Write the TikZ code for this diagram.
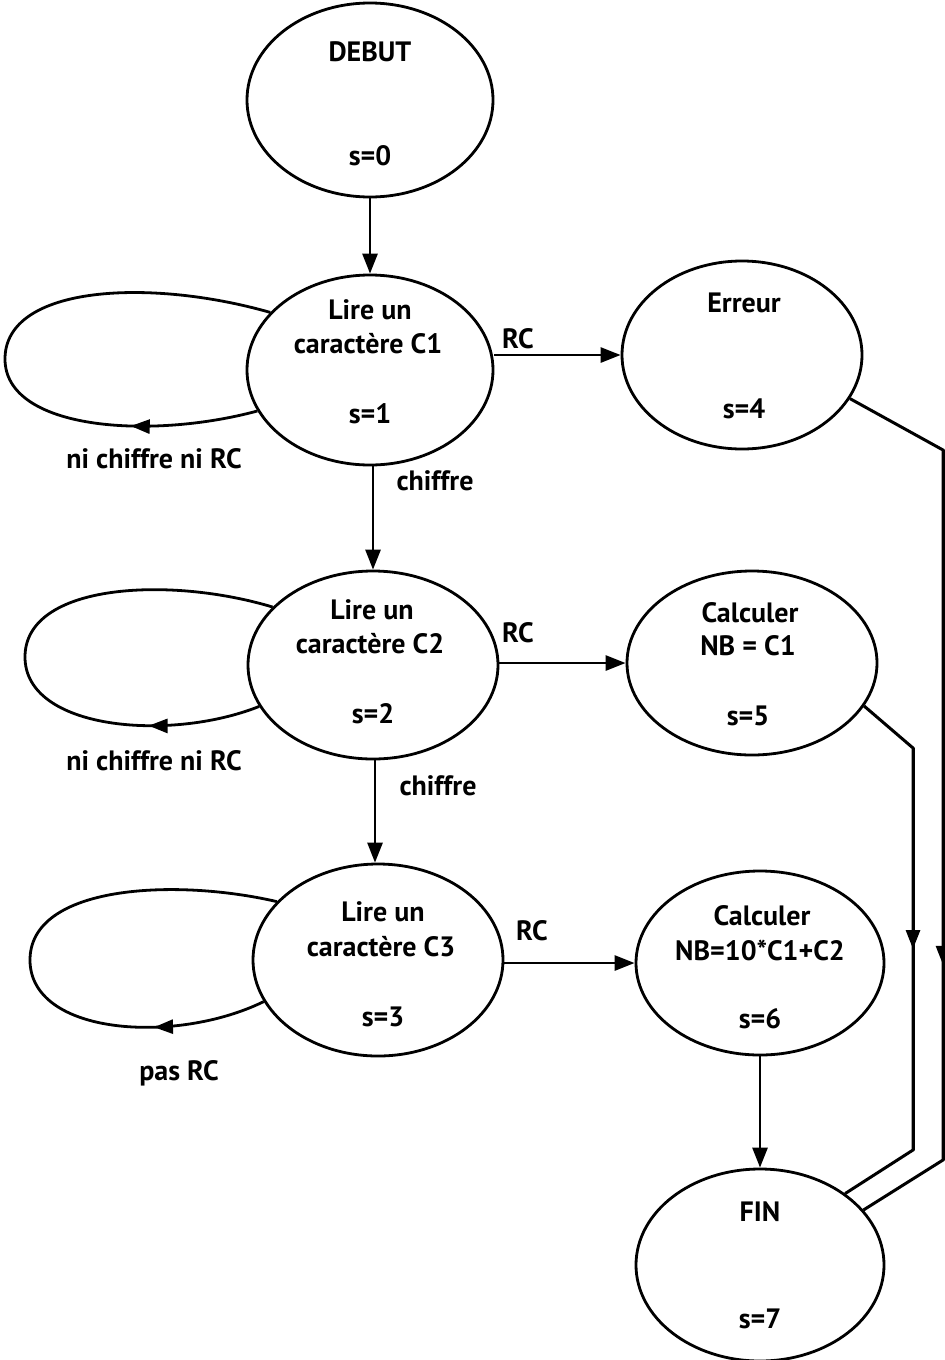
\documentclass[tikz,border=0pt]{standalone}
\usepackage{fontspec}
\setmainfont{PT Sans}
\usetikzlibrary{arrows.meta,decorations.markings,shapes.geometric}
\begin{document}
\begin{tikzpicture}[x=1pt,y=-1pt,
  st/.style={ellipse,draw,line width=2.8pt,inner sep=0pt},
  txt/.style={anchor=base,font=\bfseries\fontsize{28}{32}\selectfont,inner sep=0pt},
  conn/.style={line width=2.8pt,-{Triangle[length=20pt,width=15pt]}},
  wire/.style={line width=3pt},
  midarr/.style={decoration={markings,mark=at position #1 with {\arrow{Triangle[length=19pt,width=14pt]}}},postaction={decorate}},
]
\useasboundingbox (0,0) rectangle (945,1360);

% states
\node[st,minimum width=246pt,minimum height=194pt] (d)  at (370,100) {};
\node[st,minimum width=246pt,minimum height=190pt] (n1) at (370,370) {};
\node[st,minimum width=240pt,minimum height=188pt] (e)  at (742,355) {};
\node[st,minimum width=250pt,minimum height=188pt] (n2) at (373,665) {};
\node[st,minimum width=250pt,minimum height=184pt] (n5) at (752,663) {};
\node[st,minimum width=250pt,minimum height=192pt] (n3) at (378,960) {};
\node[st,minimum width=248pt,minimum height=184pt] (n6) at (760,963) {};
\node[st,minimum width=248pt,minimum height=192pt] (f)  at (760,1265) {};

% state texts
\node[txt] (td0) at (370,61) {DEBUT};
\node[txt] (td1) at (370,165) {s=0};
\node[txt] (t11) at (370,319) {Lire un};
\node[txt] (t12) at (368,353) {caractère C1};
\node[txt] (t13) at (370,423) {s=1};
\node[txt] (te1) at (744,312) {Erreur};
\node[txt] (te2) at (744,418) {s=4};
\node[txt] (t21) at (372,619) {Lire un};
\node[txt] (t22) at (370,653) {caractère C2};
\node[txt] (t23) at (373,723) {s=2};
\node[txt] (t51) at (750,622) {Calculer};
\node[txt] (t52) at (748,655) {NB = C1};
\node[txt] (t53) at (748,725) {s=5};
\node[txt] (t31) at (383,921) {Lire un};
\node[txt] (t32) at (381,956) {caractère C3};
\node[txt] (t33) at (383,1026) {s=3};
\node[txt] (t61) at (762,925) {Calculer};
\node[txt] (t62) at (760,960) {NB=10*C1+C2};
\node[txt] (t63) at (760,1028) {s=6};
\node[txt] (tf1) at (760,1221) {FIN};
\node[txt] (tf2) at (760,1328) {s=7};

% edge labels
\node[txt] (l1) at (518,348) {RC};
\node[txt] (l2) at (518,642) {RC};
\node[txt] (l3) at (532,940) {RC};
\node[txt] (l4) at (435,490) {chiffre};
\node[txt] (l5) at (438,795) {chiffre};
\node[txt] (l6) at (154,468) {ni chiffre ni RC};
\node[txt] (l7) at (154,770) {ni chiffre ni RC};
\node[txt] (l8) at (179,1080) {pas RC};

% main connectors
\draw[conn] (d.south) -- (n1.north);
\draw[conn] (n2.north |- n1.south) -- (n2.north);
\draw[conn] ([xshift=-3pt]n3.north |- n2.south) -- ([xshift=-3pt]n3.north);
\draw[conn] (e.west -| n1.east) -- (e.west);
\draw[conn] (n5.west -| n2.east) -- (n5.west);
\draw[conn] (n6.west -| n3.east) -- (n6.west);
\draw[conn] (n6.south) -- (f.north);

% self loops
\coordinate (c1) at (5,359);
\coordinate (c2) at (25,657);
\coordinate (c3) at (30,960);
\draw[line width=2.8pt,midarr=0.45] (n1.200) .. controls (150,440) and (5,430) .. (c1);
\draw[line width=2.8pt] (c1) .. controls (5,285) and (150,278) .. (n1.150);
\draw[line width=2.8pt,midarr=0.42] (n2.200) .. controls (170,742) and (25,730) .. (c2);
\draw[line width=2.8pt] (c2) .. controls (25,583) and (170,576) .. (n2.150);
\draw[line width=2.8pt,midarr=0.42] (n3.200) .. controls (175,1045) and (30,1035) .. (c3);
\draw[line width=2.8pt] (c3) .. controls (30,885) and (175,878) .. (n3.150);

% right side wires to FIN
\coordinate (ea) at (943,450);
\coordinate (eb) at (943,1160);
\coordinate (fa) at (913,748);
\coordinate (fb) at (913,1150);
\draw[wire] (e.-22) -- (ea) -- (eb) -- (f.28);
\draw[wire,midarr=0.725] (ea) -- (eb);
\draw[wire] (n5.-21) -- (fa) -- (fb) -- (f.40);
\draw[wire,midarr=0.50] (fa) -- (fb);
\end{tikzpicture}
\end{document}
